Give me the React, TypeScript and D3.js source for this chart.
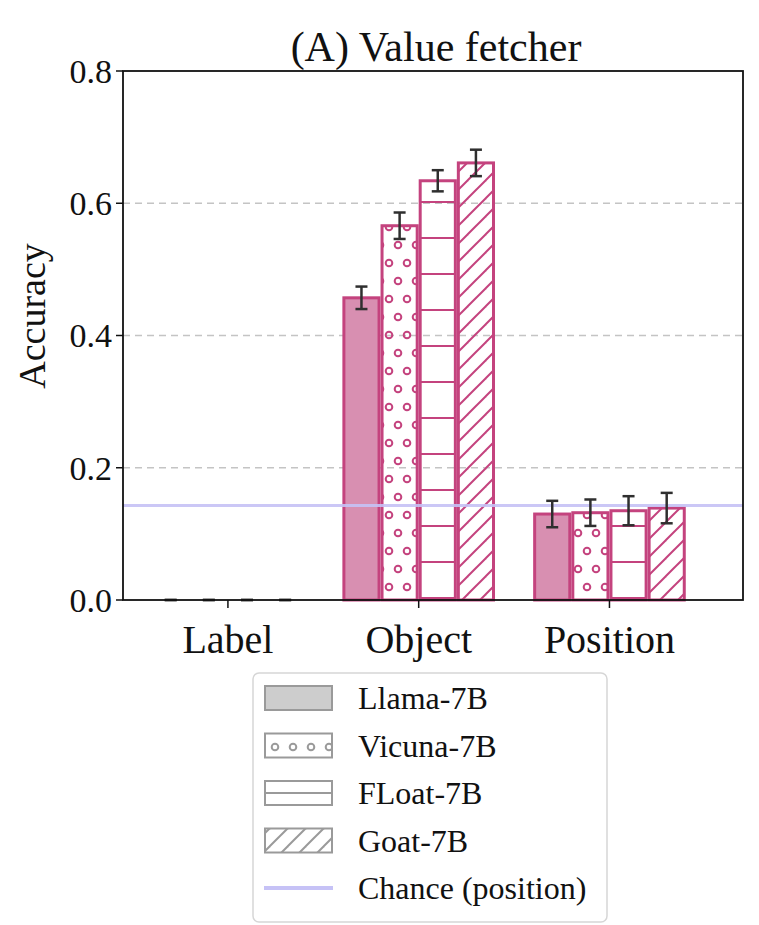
import React from "react";
import * as d3 from "d3";

// data
const categories = ["Label", "Object", "Position"];
const models = ["Llama-7B", "Vicuna-7B", "FLoat-7B", "Goat-7B"];
const llamaAcc = [0, 0.457, 0.13];
const llamaErr = [0, 0.017, 0.02];
const vicunaAcc = [0, 0.566, 0.132];
const vicunaErr = [0, 0.02, 0.02];
const floatAcc = [0, 0.634, 0.135];
const floatErr = [0, 0.016, 0.022];
const goatAcc = [0, 0.661, 0.139];
const goatErr = [0, 0.02, 0.023];
const chanceLevel = 0.143;
const yTicks = [0, 0.2, 0.4, 0.6, 0.8];

const seriesAcc = [llamaAcc, vicunaAcc, floatAcc, goatAcc];
const seriesErr = [llamaErr, vicunaErr, floatErr, goatErr];
const hatches = ["solid", "rings", "hlines", "diag"];

const W = 759;
const H = 925;
const left = 123;
const right = 743;
const top = 71;
const bottom = 600;
const barW = 0.2;

const pink = "#c4437e";
const pinkFill = "#d88fb1";
const gray = "#9a9a9a";
const chanceColor = "#c6c2f6";
const font = "'Liberation Serif', 'Times New Roman', serif";

type PatProps = { id: string; color: string; ox: number; oy: number; hy: number };

const Patterns = ({ id, color, ox, oy, hy }: PatProps) => (
  <>
    <pattern id={`rings-${id}`} patternUnits="userSpaceOnUse" width={18} height={36} x={ox} y={oy}>
      <circle cx={9} cy={9} r={3.3} fill="none" stroke={color} strokeWidth={2} />
      <circle cx={0} cy={27} r={3.3} fill="none" stroke={color} strokeWidth={2} />
      <circle cx={18} cy={27} r={3.3} fill="none" stroke={color} strokeWidth={2} />
    </pattern>
    <pattern id={`hlines-${id}`} patternUnits="userSpaceOnUse" width={18} height={36} y={hy}>
      <line x1={0} x2={18} y1={18} y2={18} stroke={color} strokeWidth={2} />
    </pattern>
    <pattern id={`diag-${id}`} patternUnits="userSpaceOnUse" width={18} height={18}>
      <line x1={0} y1={18} x2={18} y2={0} stroke={color} strokeWidth={2} />
      <line x1={-4} y1={4} x2={4} y2={-4} stroke={color} strokeWidth={2} />
      <line x1={14} y1={22} x2={22} y2={14} stroke={color} strokeWidth={2} />
    </pattern>
  </>
);

const fillFor = (h: string, id: string, solid: string) =>
  h === "solid" ? solid : `url(#${h}-${id})`;

export default function App() {
  const x = d3.scaleLinear().domain([-0.55, 2.7]).range([left, right]);
  const y = d3.scaleLinear().domain([0, 0.8]).range([bottom, top]);
  const fmt = d3.format(".1f");
  const px = x(barW) - x(0);

  const legendY = d3.scaleLinear().domain([0, 4]).range([698, 888]);

  return (
    <svg width={W} height={H} style={{ position: "absolute", left: 0, top: 0 }}>
      <defs>
        <Patterns id="bar" color={pink} ox={2} oy={2} hy={4} />
        <Patterns id="leg" color={gray} ox={14} oy={18} hy={19} />
      </defs>
      <rect width={W} height={H} fill="#fff" />

      {/* grid */}
      {yTicks.slice(1, 4).map((t) => (
        <line key={t} x1={left} x2={right} y1={y(t)} y2={y(t)}
          stroke="#c4c4c4" strokeWidth={1.5} strokeDasharray="7,5" />
      ))}

      {/* bars */}
      {categories.map((c, i) =>
        models.map((m, j) => {
          const x0 = x(i + (j - 2) * barW);
          const v = seriesAcc[j][i];
          const h = hatches[j];
          return (
            <rect key={c + m} x={x0 + 1.5} y={y(v)} width={px - 3}
              height={y(0) - y(v)}
              fill={fillFor(h, "bar", pinkFill)}
              stroke={pink} strokeWidth={3} />
          );
        })
      )}

      {/* chance line */}
      <line x1={left} x2={right} y1={y(chanceLevel)} y2={y(chanceLevel)}
        stroke={chanceColor} strokeWidth={3} opacity={0.9} />

      {/* error bars */}
      {categories.map((c, i) =>
        models.map((m, j) => {
          const e = seriesErr[j][i];
          const cx = x(i + (j - 1.5) * barW);
          const v = seriesAcc[j][i];
          return (
            <g key={"e" + c + m} stroke="#2f2f2f" strokeWidth={2.5}>
              <line x1={cx} x2={cx} y1={y(v - e)} y2={y(v + e)} />
              <line x1={cx - 6} x2={cx + 6} y1={y(v - e)} y2={y(v - e)} />
              <line x1={cx - 6} x2={cx + 6} y1={y(v + e)} y2={y(v + e)} />
            </g>
          );
        })
      )}

      {/* frame */}
      <rect x={left} y={top} width={right - left} height={bottom - top}
        fill="none" stroke="#111" strokeWidth={1.8} />

      {/* y axis */}
      {yTicks.map((t) => (
        <g key={t}>
          <line x1={left - 7} x2={left} y1={y(t)} y2={y(t)} stroke="#111" strokeWidth={1.5} />
          <text x={left - 11} y={y(t)} dy="0.35em" textAnchor="end"
            fontFamily={font} fontSize={34} fill="#111">{fmt(t)}</text>
        </g>
      ))}
      <text transform={`translate(45,316) rotate(-90)`} textAnchor="middle"
        fontFamily={font} fontSize={38} fill="#111">Accuracy</text>

      {/* x axis */}
      {categories.map((c, i) => (
        <g key={c}>
          <line x1={x(i)} x2={x(i)} y1={bottom} y2={bottom + 8} stroke="#111" strokeWidth={1.5} />
          <text x={x(i)} y={653} textAnchor="middle" fontFamily={font}
            fontSize={40} fill="#111">{c}</text>
        </g>
      ))}

      {/* title */}
      <text x={(left + right) / 2 + 3} y={61} textAnchor="middle" fontFamily={font}
        fontSize={42} fill="#111">(A) Value fetcher</text>

      {/* legend */}
      <rect x={253} y={673} width={354} height={249} rx={6}
        fill="#fff" fillOpacity={0.85} stroke="#d6d6d6" strokeWidth={1.5} />
      {models.map((m, j) => (
        <g key={m}>
          <rect x={265} y={legendY(j) - 12} width={67} height={24}
            fill={fillFor(hatches[j], "leg", "#cdcdcd")} stroke={gray} strokeWidth={2} />
          <text x={358} y={legendY(j)} dy="0.35em" fontFamily={font}
            fontSize={32} fill="#111">{m}</text>
        </g>
      ))}
      <line x1={264} x2={333} y1={legendY(4)} y2={legendY(4)} stroke={chanceColor} strokeWidth={4} />
      <text x={358} y={legendY(4)} dy="0.35em" fontFamily={font} fontSize={32}
        fill="#111">Chance (position)</text>
    </svg>
  );
}
